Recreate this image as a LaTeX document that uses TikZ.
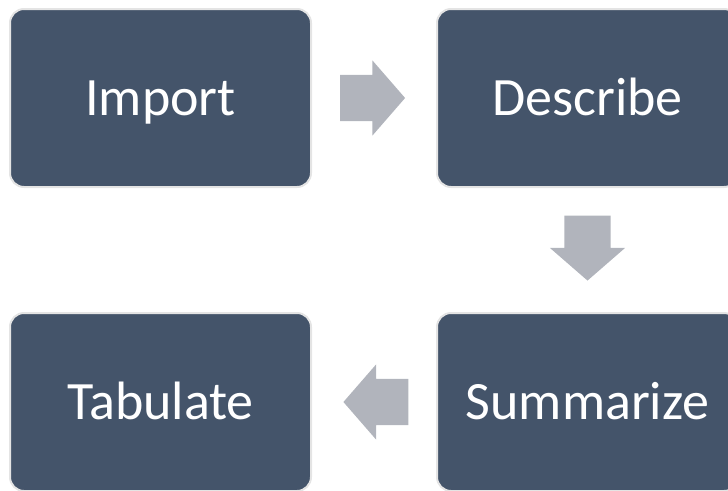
\documentclass[tikz,border=0pt]{standalone}
\usepackage{fontspec}
\setmainfont{Carlito}
\usetikzlibrary{shapes.arrows}
\definecolor{boxblue}{HTML}{44546A}
\definecolor{boxrim}{HTML}{E4E4E4}
\definecolor{arrowgray}{HTML}{B1B4BC}
\tikzset{
  stepbox/.style={draw=boxrim, line width=2pt, fill=boxblue, rounded corners=14pt,
    minimum width=301pt, minimum height=178pt, text=white,
    text height=38pt, text depth=4pt,
    font=\fontsize{54}{60}\selectfont},
  blockarrow/.style={single arrow, fill=arrowgray, draw=none,
    inner xsep=0pt, inner ysep=23pt, single arrow head extend=14.5pt,
    single arrow tip angle=98, minimum height=65pt}
}
\begin{document}
\begin{tikzpicture}[x=1pt,y=-1pt]
\useasboundingbox (0,0) rectangle (728,490);

%Boxes
\node [stepbox] (import) at (160.5,98) {Import};
\node [stepbox] (describe) at (587.5,98) {Describe};
\node [stepbox] (summarize) at (587.5,402) {Summarize};
\node [stepbox] (tabulate) at (160.5,402) {Tabulate};

%Arrows between boxes
\node [blockarrow] (arrowA) at (362.5,98) {};
\node [blockarrow, rotate=-90] (arrowB) at (587.5,238) {};
\node [blockarrow, rotate=180] (arrowC) at (386,402) {};
\end{tikzpicture}
\end{document}
